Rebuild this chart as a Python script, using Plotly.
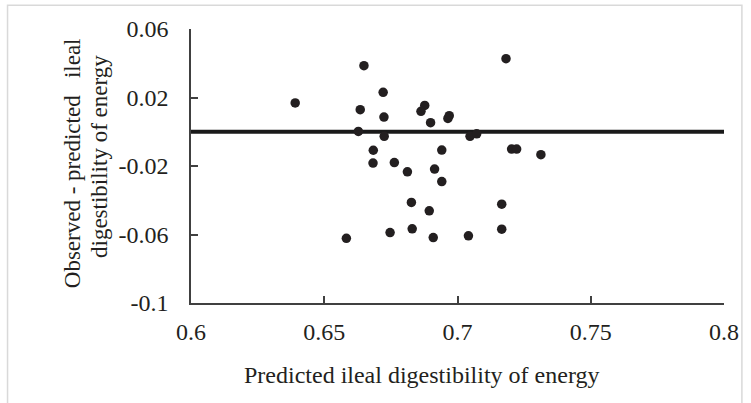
import plotly.graph_objects as go

# Data
predicted = [0.6391, 0.6649, 0.6721, 0.6635, 0.6724, 0.6628, 0.6725, 0.6684,
             0.7182, 0.6877, 0.6863, 0.6899, 0.6969, 0.6964, 0.7047, 0.7072,
             0.6941, 0.7203, 0.7222, 0.7313, 0.7166, 0.7166, 0.7041, 0.6683,
             0.6763, 0.6812, 0.6914, 0.6941, 0.6827, 0.6894, 0.6583, 0.6747,
             0.6830, 0.6909]
residual = [0.0168, 0.0386, 0.0230, 0.0129, 0.0086, 0.0002, -0.0027, -0.0108,
            0.0427, 0.0154, 0.0119, 0.0053, 0.0094, 0.0078, -0.0027, -0.0012,
            -0.0107, -0.0101, -0.0101, -0.0134, -0.0423, -0.0569, -0.0608, -0.0183,
            -0.0180, -0.0234, -0.0218, -0.0291, -0.0413, -0.0462, -0.0622, -0.0589,
            -0.0567, -0.0618]

zero_line_x = [0.6, 0.8]
zero_line_y = [0.0, 0.0]

x_tickvals = [0.6, 0.65, 0.7, 0.75, 0.8]
x_ticktext = ["0.6", "0.65", "0.7", "0.75", "0.8"]
y_tickvals = [-0.1, -0.06, -0.02, 0.02, 0.06]
y_ticktext = ["-0.1", "-0.06", "-0.02", "0.02", "0.06"]

x_title = "Predicted ileal digestibility of energy"
y_title_line1 = "Observed - predicted&nbsp;&nbsp; ileal"
y_title_line2 = "digestibility of energy"

FONT = "Liberation Serif, Times New Roman, serif"
TXT = "#231f20"

fig = go.Figure()
fig.add_trace(go.Scatter(x=zero_line_x, y=zero_line_y, mode="lines",
                         line=dict(color="#1a1a1a", width=4), hoverinfo="skip",
                         showlegend=False))
fig.add_trace(go.Scatter(x=predicted, y=residual, mode="markers",
                         marker=dict(color="#231f20", size=9.5, line=dict(width=0)),
                         showlegend=False))

fig.update_layout(
    width=751, height=403,
    margin=dict(l=191, r=24, t=29, b=100),
    paper_bgcolor="white", plot_bgcolor="white",
    font=dict(family=FONT, size=24, color=TXT),
    xaxis=dict(range=[0.6, 0.8], tickvals=x_tickvals, ticktext=x_ticktext,
               showgrid=False, zeroline=False, showline=True, linecolor="#404040",
               linewidth=1.5, ticks="inside", ticklen=7, tickwidth=1.5,
               tickcolor="#404040", ticklabelstandoff=6,
               tickfont=dict(family=FONT, size=24, color=TXT)),
    yaxis=dict(range=[-0.1, 0.06], tickvals=y_tickvals, ticktext=y_ticktext,
               showgrid=False, zeroline=False, showline=True, linecolor="#404040",
               linewidth=1.5, ticks="inside", ticklen=7, tickwidth=1.5,
               tickcolor="#404040", ticklabelstandoff=16,
               tickfont=dict(family=FONT, size=24, color=TXT)),
    shapes=[dict(type="rect", xref="paper", yref="paper",
                 x0=-0.3442, x1=1.0336, y0=-0.39, y1=1.0865,
                 line=dict(color="#d9d9d9", width=1.5), fillcolor="rgba(0,0,0,0)",
                 layer="below")],
    annotations=[
        dict(text=x_title, xref="paper", yref="paper", x=0.433, y=-0.263,
             xanchor="center", yanchor="middle", showarrow=False,
             font=dict(family=FONT, size=24, color=TXT)),
        dict(text=y_title_line1, xref="paper", yref="paper", x=-0.222, y=0.509,
             xanchor="center", yanchor="middle", textangle=-90, showarrow=False,
             font=dict(family=FONT, size=23, color=TXT)),
        dict(text=y_title_line2, xref="paper", yref="paper", x=-0.172, y=0.534,
             xanchor="center", yanchor="middle", textangle=-90, showarrow=False,
             font=dict(family=FONT, size=23, color=TXT)),
    ],
)

fig.write_html("out.html", config={"displayModeBar": False},
               post_script="document.body.style.margin='0';"
                           "document.body.style.overflow='hidden';")
